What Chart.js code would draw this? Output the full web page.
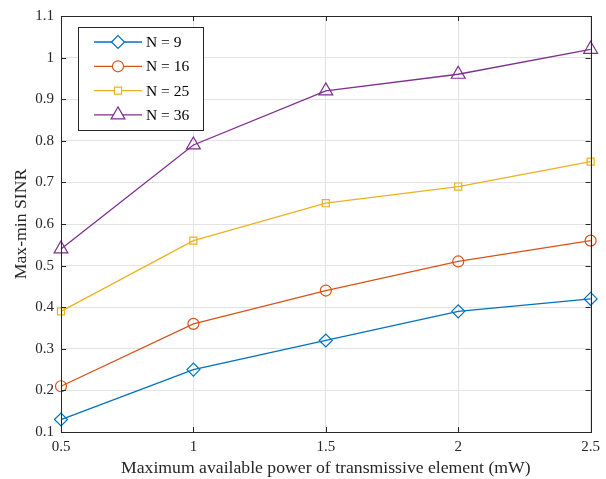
<!DOCTYPE html>
<html><head><meta charset="utf-8">
<script src="https://cdn.jsdelivr.net/npm/chart.js@4"></script>
<style>html,body{margin:0;padding:0;background:#fff}#c{display:block}</style>
</head><body>
<canvas id="c" width="606" height="479"></canvas>
<script>
const powers = [0.5, 1, 1.5, 2, 2.5];
const sinrN9  = [0.13, 0.25, 0.32, 0.39, 0.42];
const sinrN16 = [0.21, 0.36, 0.44, 0.51, 0.56];
const sinrN25 = [0.39, 0.56, 0.65, 0.69, 0.75];
const sinrN36 = [0.54, 0.79, 0.92, 0.96, 1.02];
const seriesLabels = ['N = 9', 'N = 16', 'N = 25', 'N = 36'];
const xTicks = [0.5, 1, 1.5, 2, 2.5];
const yTicks = [0.1, 0.2, 0.3, 0.4, 0.5, 0.6, 0.7, 0.8, 0.9, 1, 1.1];

const colors = ['#0072BD', '#D95319', '#EDB120', '#7E2F8E'];
const styles = ['rectRot', 'circle', 'rect', 'triangle'];
const radii = [6.5, 5.5, 5, 8];
const FONT = '"Liberation Serif", "DejaVu Serif", serif';

function mk(i, vals) {
  return {
    label: seriesLabels[i],
    data: powers.map((p, k) => ({x: p, y: vals[k]})),
    borderColor: colors[i],
    backgroundColor: 'rgba(255,255,255,0)',
    pointBorderColor: colors[i],
    pointBackgroundColor: 'rgba(255,255,255,0)',
    pointStyle: styles[i],
    pointRadius: radii[i],
    pointBorderWidth: 1.2,
    borderWidth: 1.3,
    tension: 0,
    clip: false
  };
}

const framePlugin = {
  id: 'frame',
  afterDraw(chart) {
    const {ctx, chartArea: a, scales} = chart;
    ctx.save();
    ctx.strokeStyle = '#262626';
    ctx.lineWidth = 1;
    const L = 5;
    ctx.beginPath();
    xTicks.forEach(v => {
      const x = Math.round(scales.x.getPixelForValue(v)) + 0.5;
      ctx.moveTo(x, a.bottom); ctx.lineTo(x, a.bottom - L);
      ctx.moveTo(x, a.top); ctx.lineTo(x, a.top + L);
    });
    yTicks.forEach(v => {
      const y = Math.round(scales.y.getPixelForValue(v)) + 0.5;
      ctx.moveTo(a.left, y); ctx.lineTo(a.left + L, y);
      ctx.moveTo(a.right, y); ctx.lineTo(a.right - L, y);
    });
    ctx.stroke();
    ctx.strokeRect(Math.round(a.left) + 0.5, Math.round(a.top) + 0.5, Math.round(a.right - a.left), Math.round(a.bottom - a.top));

    // legend box
    const bx = 78.5, by = 27.5, bw = 125, bh = 103;
    ctx.fillStyle = '#fff';
    ctx.fillRect(bx, by, bw, bh);
    ctx.strokeStyle = '#262626';
    ctx.strokeRect(bx, by, bw, bh);
    chart.data.datasets.forEach((ds, i) => {
      const y = 42 + i * 24.3;
      ctx.strokeStyle = ds.borderColor;
      ctx.lineWidth = 1.3;
      ctx.beginPath(); ctx.moveTo(94, y); ctx.lineTo(142, y); ctx.stroke();
      ctx.fillStyle = '#fff';
      ctx.lineWidth = 1.2;
      Chart.helpers.drawPoint(ctx, {pointStyle: ds.pointStyle, radius: ds.pointRadius, borderWidth: 1.2, rotation: 0}, 118, y);
      ctx.fillStyle = '#000';
      ctx.font = '15.5px ' + FONT;
      ctx.textBaseline = 'middle';
      ctx.textAlign = 'left';
      ctx.fillText(ds.label, 146, y + 1);
    });
    ctx.restore();
  }
};

new Chart(document.getElementById('c'), {
  type: 'line',
  data: {datasets: [mk(0, sinrN9), mk(1, sinrN16), mk(2, sinrN25), mk(3, sinrN36)]},
  options: {
    responsive: false,
    animation: false,
    events: [],
    layout: {padding: {left: 0, right: 15, top: 16, bottom: 0}},
    plugins: {legend: {display: false}, tooltip: {enabled: false}},
    scales: {
      x: {
        type: 'linear', min: 0.5, max: 2.5,
        afterFit(s) { s.height = 47; },
        afterBuildTicks(s) { s.ticks = xTicks.map(v => ({value: v})); },
        grid: {color: '#e3e3e3', drawTicks: false},
        border: {display: false},
        ticks: {color: '#262626', padding: 6, font: {family: FONT, size: 15}, maxRotation: 0, callback: v => String(v)},
        title: {display: true, text: 'Maximum available power of transmissive element (mW)', color: '#262626', font: {family: FONT, size: 17.7}, padding: {top: 0, bottom: 0}}
      },
      y: {
        type: 'linear', min: 0.1, max: 1.1,
        afterFit(s) { s.width = 61; },
        afterBuildTicks(s) { s.ticks = yTicks.map(v => ({value: v})); },
        grid: {color: '#e3e3e3', drawTicks: false},
        border: {display: false},
        ticks: {color: '#262626', padding: 7, font: {family: FONT, size: 15}, callback: v => String(v)},
        title: {display: true, text: 'Max-min SINR', color: '#262626', font: {family: FONT, size: 17.7}, padding: {top: 11, bottom: 0}}
      }
    }
  },
  plugins: [framePlugin]
});
</script>
</body></html>
